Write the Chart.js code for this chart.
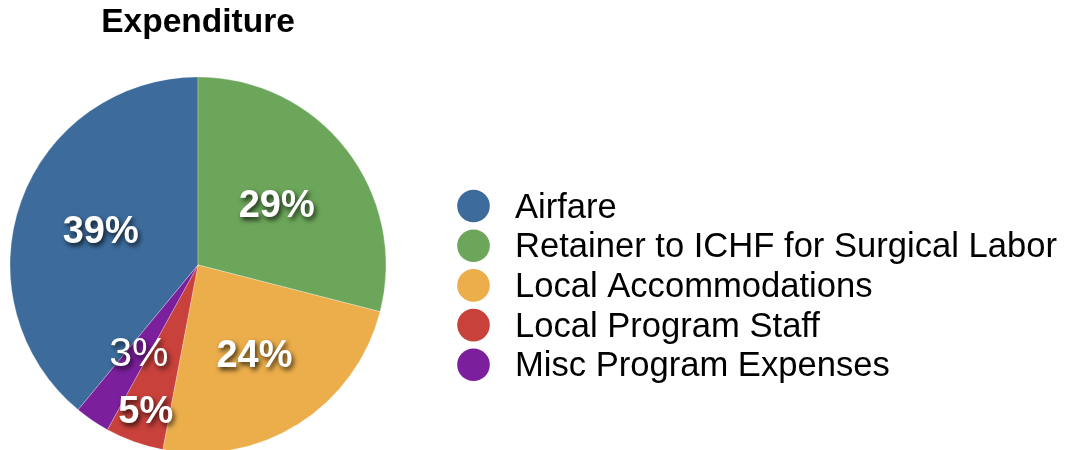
<!DOCTYPE html>
<html>
<head>
<meta charset="utf-8">
<title>Expenditure</title>
<script src="https://cdn.jsdelivr.net/npm/chart.js@4.4.1/dist/chart.umd.min.js"></script>
<style>
    html, body { margin: 0; padding: 0; background: #fff; overflow: hidden; }
    #wrap { position: relative; width: 1065px; height: 450px; overflow: hidden; }
</style>
</head>
<body>
<div id="wrap">
    <canvas id="expChart" width="1065" height="477"></canvas>
</div>
<script>
const exp_labels = ['Airfare', 'Retainer to ICHF for Surgical Labor', 'Local Accommodations', 'Local Program Staff', 'Misc Program Expenses'];
const exp_values = [39, 29, 24, 5, 3];
const exp_colors = ['#3d6c9c', '#6ca65a', '#ecae4b', '#c9413b', '#7b1f9c'];

const FONT = "'Liberation Sans', Helvetica, Arial, sans-serif";

// where each % label sits, as a fraction of the radius
const exp_labelDist = [0.55, 0.53, 0.56, 0.82, 0.56];
const exp_labelBold = [true, true, true, true, false];

const total = exp_values.reduce((a, b) => a + b, 0);

const sliceLabels = {
    id: 'sliceLabels',
    afterDatasetsDraw(chart) {
        const ctx = chart.ctx;
        const meta = chart.getDatasetMeta(0);
        meta.data.forEach((arc, i) => {
            const p = arc.getProps(['x', 'y', 'startAngle', 'endAngle', 'outerRadius']);
            const mid = (p.startAngle + p.endAngle) / 2;
            const r = p.outerRadius * exp_labelDist[i];
            const x = p.x + Math.cos(mid) * r;
            const y = p.y + Math.sin(mid) * r + 3;
            const txt = Math.round(exp_values[i] / total * 100) + '%';
            ctx.save();
            ctx.font = exp_labelBold[i] ? 'bold 38px ' + FONT : '41px ' + FONT;
            ctx.textAlign = 'center';
            ctx.textBaseline = 'middle';
            ctx.shadowColor = 'rgba(0,0,0,0.75)';
            ctx.shadowBlur = 5;
            ctx.shadowOffsetX = 2;
            ctx.shadowOffsetY = 3;
            ctx.fillStyle = '#fff';
            ctx.fillText(txt, x, y);
            ctx.restore();
        });
    }
};

const sideLegend = {
    id: 'sideLegend',
    afterDraw(chart) {
        const ctx = chart.ctx;
        const x0 = 473.5, y0 = 206, step = 39.7;
        ctx.save();
        exp_labels.forEach((lab, i) => {
            const y = y0 + i * step;
            ctx.beginPath();
            ctx.arc(x0, y, 16.3, 0, Math.PI * 2);
            ctx.fillStyle = exp_colors[i];
            ctx.fill();
            ctx.font = '34.6px ' + FONT;
            ctx.fillStyle = '#000';
            ctx.textAlign = 'left';
            ctx.textBaseline = 'alphabetic';
            ctx.fillText(lab, 515, y + 11.5);
        });
        ctx.restore();
    }
};

new Chart(document.getElementById('expChart'), {
    type: 'pie',
    data: {
        labels: exp_labels,
        datasets: [{
            data: exp_values,
            backgroundColor: exp_colors,
            borderColor: 'rgba(255,255,255,0.45)',
            borderWidth: 0.6,
            radius: 188
        }]
    },
    options: {
        responsive: false,
        animation: false,
        rotation: -exp_values[0] / total * 360,
        layout: { padding: { left: 10, right: 679, top: 0, bottom: 0 } },
        plugins: {
            legend: { display: false },
            tooltip: { enabled: false },
            title: {
                display: true,
                text: 'Expenditure',
                color: '#000',
                font: { family: FONT, size: 33.5, weight: 'bold', lineHeight: 1.2 },
                padding: { top: 2.6, bottom: 10 }
            }
        }
    },
    plugins: [sliceLabels, sideLegend]
});
</script>
</body>
</html>
